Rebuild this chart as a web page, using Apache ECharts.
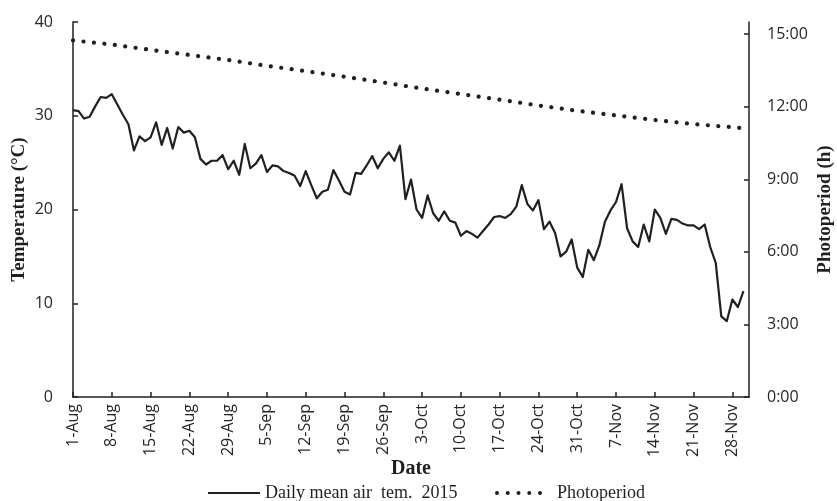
<!DOCTYPE html>
<html>
<head>
<meta charset="utf-8">
<script src="https://cdn.jsdelivr.net/npm/echarts@6/dist/echarts.min.js"></script>
<style>
  html, body { margin: 0; padding: 0; background: #fff; }
  #chart { width: 837px; height: 501px; }
</style>
</head>
<body>
<div id="chart"></div>
<script>
// Daily mean air temperature (°C), 1 Aug – 30 Nov 2015
const temperature = [
  30.6, 30.5, 29.7, 29.9, 31.0, 32.0, 31.9, 32.3, 31.2, 30.1,
  29.1, 26.3, 27.8, 27.3, 27.7, 29.3, 26.9, 28.7, 26.5, 28.8,
  28.2, 28.4, 27.7, 25.4, 24.8, 25.2, 25.2, 25.8, 24.3, 25.2,
  23.7, 27.0, 24.4, 24.9, 25.8, 24.0, 24.7, 24.6, 24.1, 23.9,
  23.6, 22.5, 24.1, 22.6, 21.2, 21.9, 22.1, 24.2, 23.1, 21.9,
  21.6, 23.9, 23.8, 24.7, 25.7, 24.4, 25.4, 26.1, 25.2, 26.8,
  21.1, 23.2, 20.0, 19.1, 21.5, 19.6, 18.8, 19.8, 18.8, 18.6,
  17.2, 17.7, 17.4, 17.0, 17.7, 18.4, 19.2, 19.3, 19.1, 19.5,
  20.3, 22.6, 20.6, 19.9, 21.0, 17.9, 18.7, 17.5, 15.0, 15.5,
  16.8, 13.8, 12.8, 15.7, 14.6, 16.2, 18.7, 19.9, 20.8, 22.7,
  18.0, 16.6, 16.0, 18.4, 16.6, 20.0, 19.1, 17.4, 19.0, 18.9,
  18.5, 18.3, 18.3, 17.9, 18.4, 16.0, 14.3, 8.6, 8.1, 10.4,
  9.6, 11.3
];

// Photoperiod (hours of daylight) on the weekly dates
const photoDates = [
  '1-Aug', '8-Aug', '15-Aug', '22-Aug', '29-Aug', '5-Sep', '12-Sep',
  '19-Sep', '26-Sep', '3-Oct', '10-Oct', '17-Oct', '24-Oct', '31-Oct',
  '7-Nov', '14-Nov', '21-Nov', '28-Nov', '30-Nov'
];
const photoHours = [
  14.74, 14.57, 14.35, 14.14, 13.93, 13.69, 13.47,
  13.24, 13.00, 12.75, 12.52, 12.29, 12.05, 11.83,
  11.64, 11.45, 11.28, 11.15, 11.11
];

// Date axis: every day from 1 Aug to 1 Dec
const monthNames = ['Aug', 'Sep', 'Oct', 'Nov', 'Dec'];
const monthDays = [31, 30, 31, 30, 1];
const dates = [];
monthNames.forEach((m, i) => {
  for (let d = 1; d <= monthDays[i]; d++) dates.push(d + '-' + m);
});

// Axis ticks
const tempTicks = { min: 0, max: 40, interval: 10 };
const photoTicks = [0, 3, 6, 9, 12, 15];
const photoMax = 15.5;

const tempName = 'Daily mean air  tem.  2015';
const photoName = 'Photoperiod';

const ink = '#231f20';
const tickFont = { fontFamily: 'Open Sans', fontSize: 16, color: '#262626' };
const titleFont = { fontFamily: 'Liberation Serif', fontSize: 19, fontWeight: 'bold', color: ink };
const legendFont = { fontFamily: 'Liberation Serif', fontSize: 18, color: ink };

// legend key for the dotted series: five round dots
const dotKey = 'path://' + [0, 10.75, 21.5, 32.25, 43].map(x =>
  'M' + x + ',2a2,2 0 1,0 4,0a2,2 0 1,0 -4,0z').join(' ');

const chart = echarts.init(document.getElementById('chart'), null, { renderer: 'canvas' });

chart.setOption({
  animation: false,
  backgroundColor: '#fff',
  grid: { left: 73, right: 88, top: 22, bottom: 104, outerBoundsMode: 'none' },
  legend: [
    {
      left: 208,
      top: 484,
      padding: 0,
      icon: 'rect',
      itemWidth: 52,
      itemHeight: 2.2,
      textStyle: legendFont,
      data: [tempName]
    },
    {
      left: 495,
      top: 484,
      padding: 0,
      icon: dotKey,
      itemWidth: 47,
      itemHeight: 4,
      textStyle: Object.assign({ padding: [0, 0, 0, 10] }, legendFont),
      data: [photoName]
    }
  ],
  xAxis: {
    type: 'category',
    data: dates,
    boundaryGap: false,
    name: 'Date',
    nameLocation: 'middle',
    nameGap: 62,
    nameMoveOverlap: false,
    nameTextStyle: Object.assign({}, titleFont, { fontSize: 20 }),
    axisLine: { lineStyle: { color: ink, width: 1.5 } },
    axisTick: { inside: true, length: 5, interval: 6, lineStyle: { color: ink, width: 1.5 } },
    axisLabel: Object.assign({ interval: 6, rotate: 90, margin: 7 }, tickFont),
    splitLine: { show: false }
  },
  yAxis: [
    {
      type: 'value',
      min: tempTicks.min,
      max: tempTicks.max,
      interval: tempTicks.interval,
      name: 'Temperature (°C)',
      nameLocation: 'middle',
      nameRotate: 90,
      nameGap: 44,
      nameMoveOverlap: false,
      nameTextStyle: titleFont,
      axisLine: { show: true, lineStyle: { color: ink, width: 1.5 } },
      axisTick: { show: true, inside: true, length: 5, lineStyle: { color: ink, width: 1.5 } },
      axisLabel: Object.assign({ margin: 20 }, tickFont),
      splitLine: { show: false }
    },
    {
      type: 'value',
      position: 'right',
      min: 0,
      max: photoMax,
      name: 'Photoperiod (h)',
      nameLocation: 'middle',
      nameRotate: 90,
      nameGap: 67,
      nameMoveOverlap: false,
      nameTextStyle: titleFont,
      axisLine: { show: true, lineStyle: { color: ink, width: 1.5 } },
      axisTick: { show: true, inside: true, length: 5, customValues: photoTicks, lineStyle: { color: ink, width: 1.5 } },
      axisLabel: Object.assign({
        margin: 18,
        customValues: photoTicks,
        formatter: v => Math.round(v) + ':00'
      }, tickFont),
      splitLine: { show: false }
    }
  ],
  series: [
    {
      name: tempName,
      type: 'line',
      yAxisIndex: 0,
      data: temperature,
      symbol: 'none',
      lineStyle: { color: ink, width: 2.2, join: 'round' },
      itemStyle: { color: ink }
    },
    {
      name: photoName,
      type: 'line',
      yAxisIndex: 1,
      data: photoDates.map((d, i) => [d, photoHours[i]]),
      symbol: 'none',
      lineStyle: { color: ink, width: 4.2, type: [0.1, 10.4], cap: 'round' },
      itemStyle: { color: ink }
    }
  ]
});
</script>
</body>
</html>
